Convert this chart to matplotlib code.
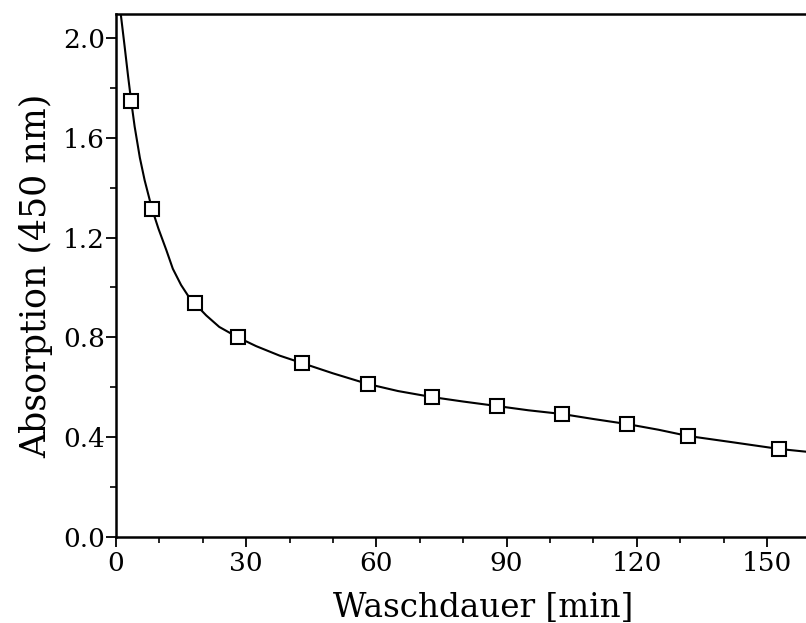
import numpy as np
import matplotlib.pyplot as plt
from matplotlib.ticker import MultipleLocator, FormatStrFormatter

# measured points
wash_time = [3.5, 8.3, 18.2, 28.1, 42.9, 58.1, 72.8, 87.8, 102.8, 117.7, 131.8, 152.8]
absorption = [1.747, 1.315, 0.938, 0.800, 0.697, 0.613, 0.561, 0.525, 0.493, 0.453, 0.405, 0.353]

# fitted curve
curve_x = [1.1, 2.0, 2.8, 3.5, 4.3, 5.5, 6.6, 8.3, 9.8, 11.6, 13.1, 15.0, 16.5,
           18.2, 20.8, 23.8, 28.1, 32.3, 37.7, 42.9, 50.0, 58.1, 65.0, 72.8, 80.0,
           87.8, 95.0, 102.8, 110.0, 117.7, 125.0, 131.8, 142.0, 152.8, 159.0]
curve_y = [2.096, 1.965, 1.845, 1.747, 1.645, 1.52, 1.43, 1.315, 1.235, 1.15,
           1.075, 1.010, 0.970, 0.935, 0.888, 0.842, 0.800, 0.765, 0.727, 0.697,
           0.656, 0.613, 0.585, 0.561, 0.543, 0.525, 0.508, 0.493, 0.473, 0.453,
           0.430, 0.405, 0.380, 0.353, 0.342]

plt.rcParams['font.family'] = ['DejaVu Serif']

fig = plt.figure(figsize=(8.06, 6.23), dpi=100)
ax = fig.add_axes([0.1439, 0.138, 0.8561, 0.8395])

ax.plot(curve_x, curve_y, color='black', lw=1.5, zorder=2)
ax.plot(wash_time, absorption, ls='none', marker='s', ms=10.5,
        mfc='white', mec='black', mew=1.5, zorder=3)

ax.set_xlim(0, 159)
ax.set_ylim(0, 2.096)

ax.xaxis.set_major_locator(MultipleLocator(30))
ax.xaxis.set_minor_locator(MultipleLocator(10))
ax.yaxis.set_major_locator(MultipleLocator(0.4))
ax.yaxis.set_minor_locator(MultipleLocator(0.2))
ax.yaxis.set_major_formatter(FormatStrFormatter('%.1f'))

ax.spines['right'].set_visible(False)
for s in ['left', 'top', 'bottom']:
    ax.spines[s].set_linewidth(1.8)

ax.tick_params(which='major', direction='out', length=7, width=1.3, labelsize=19, pad=1)
ax.tick_params(which='minor', direction='out', length=4, width=1.2)
ax.tick_params(axis='x', pad=3)

ax.set_xlabel('Waschdauer [min]', fontsize=23.5, va='baseline')
ax.xaxis.set_label_coords(0.532, -0.153)
ax.set_ylabel('Absorption (450 nm)', fontsize=25, labelpad=7)

fig.savefig('out.png', dpi=100)
